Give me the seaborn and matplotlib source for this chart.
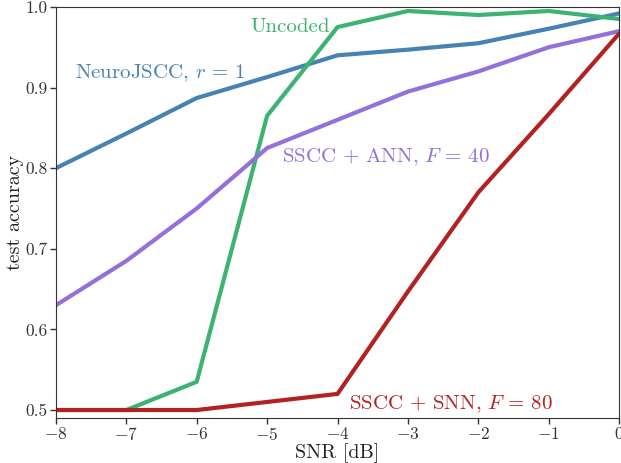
import numpy as np
import pandas as pd
import matplotlib
matplotlib.use("Agg")
import matplotlib.pyplot as plt
import seaborn as sns

# ---- data ----
snr = [-8, -7, -6, -5, -4, -3, -2, -1, 0]
neurojscc = [0.800, 0.843, 0.887, 0.913, 0.940, 0.947, 0.955, 0.973, 0.992]
uncoded = [0.500, 0.500, 0.535, 0.865, 0.975, 0.995, 0.990, 0.995, 0.985]
sscc_ann = [0.630, 0.685, 0.750, 0.825, 0.860, 0.895, 0.920, 0.950, 0.970]
sscc_snn = [0.500, 0.500, 0.500, 0.510, 0.520, 0.647, 0.770, 0.867, 0.967]

names = ["neurojscc", "uncoded", "ann", "snn"]
series = [neurojscc, uncoded, sscc_ann, sscc_snn]
colors = {"neurojscc": "#4682b4", "uncoded": "#3cb371",
          "ann": "#9370db", "snn": "#b22222"}

df = pd.concat([pd.DataFrame({"snr": snr, "acc": vals, "method": name})
                for name, vals in zip(names, series)], ignore_index=True)

# ---- style ----
sns.set_style("ticks")
plt.rcParams["font.family"] = ["cmr10", "DejaVu Serif"]
plt.rcParams["mathtext.fontset"] = "cm"
plt.rcParams["axes.formatter.use_mathtext"] = True
plt.rcParams["axes.edgecolor"] = "#333333"
plt.rcParams["xtick.color"] = "#333333"
plt.rcParams["ytick.color"] = "#333333"

fig = plt.figure(figsize=(6.21, 4.63), dpi=100)
ax = fig.add_axes([0.090, 0.097, 0.907, 0.888])

sns.lineplot(data=df, x="snr", y="acc", hue="method", palette=colors,
             hue_order=names, linewidth=3, legend=False, ax=ax)

ax.set_xlim(-8, 0)
ax.set_ylim(0.49, 1.0)
ax.set_xticks(snr)
ax.set_yticks([0.5, 0.6, 0.7, 0.8, 0.9, 1.0])
ax.set_xticklabels([r"$-%d$" % -v if v < 0 else r"$0$" for v in snr])
ax.set_yticklabels(["0.5", "0.6", "0.7", "0.8", "0.9", "1.0"])
ax.tick_params(labelsize=12.5, length=4, width=1, pad=2)
ax.set_xlabel("SNR [dB]", fontsize=14.5, color="#222222", labelpad=0)
ax.set_ylabel("test accuracy", fontsize=14.5, color="#222222", labelpad=1)

# curve labels
ax.text(-7.73, 0.918, r"NeuroJSCC, $r\,=\,1$", color=colors["neurojscc"],
        fontsize=15, va="center")
ax.text(-5.24, 0.975, "Uncoded", color=colors["uncoded"],
        fontsize=15, va="center")
ax.text(-4.79, 0.814, r"SSCC + ANN, $F\,=\,40$", color=colors["ann"],
        fontsize=15, va="center")
ax.text(-3.84, 0.507, r"SSCC + SNN, $F\,=\,80$", color=colors["snn"],
        fontsize=15, va="center")

fig.savefig("out.png", dpi=100)
